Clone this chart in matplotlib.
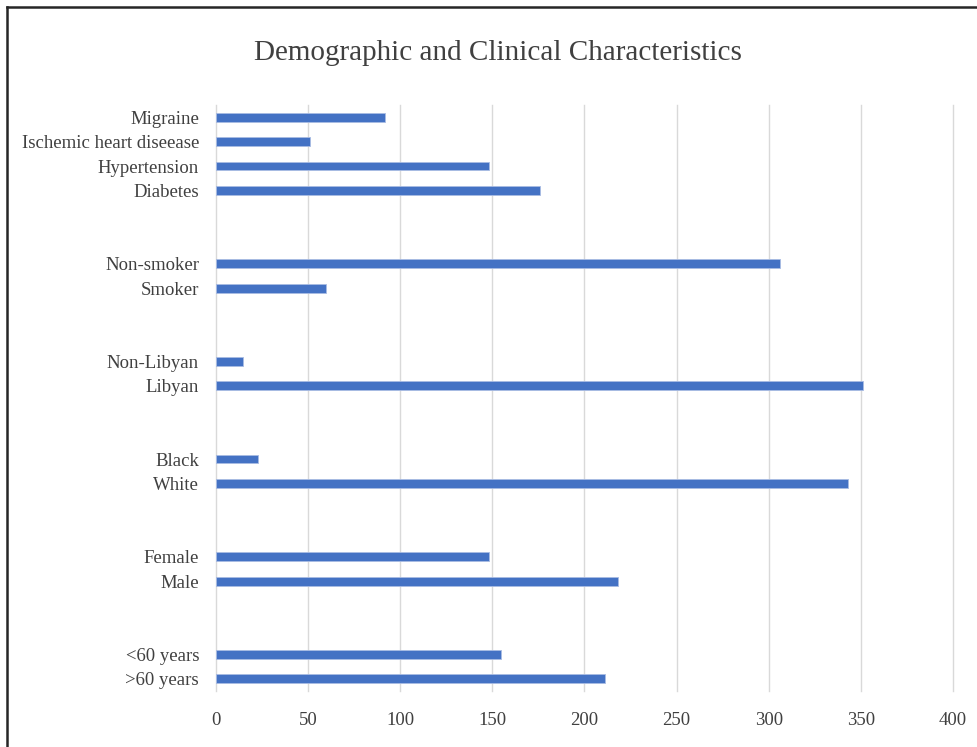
import matplotlib
matplotlib.use("Agg")
import matplotlib.pyplot as plt
from matplotlib.lines import Line2D


# ---------------------------------------------------------------------------
# Données (effectifs)
# ---------------------------------------------------------------------------

age_labels = [">60 years", "<60 years"]
age_counts = [211, 155]

sex_labels = ["Male", "Female"]
sex_counts = [218, 148]

race_labels = ["White", "Black"]
race_counts = [343, 23]

nationality_labels = ["Libyan", "Non-Libyan"]
nationality_counts = [351, 15]

smoking_labels = ["Smoker", "Non-smoker"]
smoking_counts = [60, 306]

comorbidity_labels = ["Diabetes", "Hypertension",
                      "Ischemic heart diseease", "Migraine"]
comorbidity_counts = [176, 148, 51, 92]

x_ticks = [0, 50, 100, 150, 200, 250, 300, 350, 400]

groups = [
    (age_labels, age_counts),
    (sex_labels, sex_counts),
    (race_labels, race_counts),
    (nationality_labels, nationality_counts),
    (smoking_labels, smoking_counts),
    (comorbidity_labels, comorbidity_counts),
]

# ---------------------------------------------------------------------------
# Positions : deux lignes vides entre chaque groupe (comme dans Excel)
# ---------------------------------------------------------------------------

GAP = 2
positions, labels, counts = [], [], []
row = 0
for lab, cnt in groups:
    for l, c in zip(lab, cnt):
        positions.append(row)
        labels.append(l)
        counts.append(c)
        row += 1
    row += GAP
n_rows = row - GAP

# ---------------------------------------------------------------------------
# Figure
# ---------------------------------------------------------------------------

plt.rcParams["font.family"] = ["Liberation Serif", "DejaVu Serif"]

W, H = 977, 747
fig = plt.figure(figsize=(W / 100, H / 100), dpi=100)
ax = fig.add_axes([215.7 / W, 1 - 691 / H, (953 - 215.7) / W, (691 - 105) / H])

ax.barh(positions, counts, height=0.36, color="#4472C4",
        edgecolor="#A9BCE3", linewidth=0.6, zorder=3)

ax.set_xlim(0, 400)
ax.set_ylim(-0.5, n_rows - 0.5)
ax.set_xticks(x_ticks)
ax.set_yticks(positions)
ax.set_yticklabels(labels)
ax.grid(axis="x", color="#D9D9D9", linewidth=1.0, zorder=0)
ax.set_axisbelow(True)
for g in ax.get_xgridlines():
    g.set_clip_on(False)
for s in ax.spines.values():
    s.set_visible(False)

ax.tick_params(axis="y", length=0, pad=12, labelsize=13.5, labelcolor="#404040")
ax.tick_params(axis="x", length=0, pad=15, labelsize=13.5, labelcolor="#404040")

fig.text(498 / W, 1 - 53 / H, "Demographic and Clinical Characteristics",
         ha="center", va="center", fontsize=21, color="#404040")

# Cadre du graphique (bords gauche et haut visibles)
fig.add_artist(Line2D([7 / W, 7 / W], [0, 1 - 7 / H],
                      transform=fig.transFigure, color="#262626", linewidth=1.8))
fig.add_artist(Line2D([7 / W, 1], [1 - 7 / H, 1 - 7 / H],
                      transform=fig.transFigure, color="#262626", linewidth=1.8))

fig.savefig("out.png", dpi=100)
